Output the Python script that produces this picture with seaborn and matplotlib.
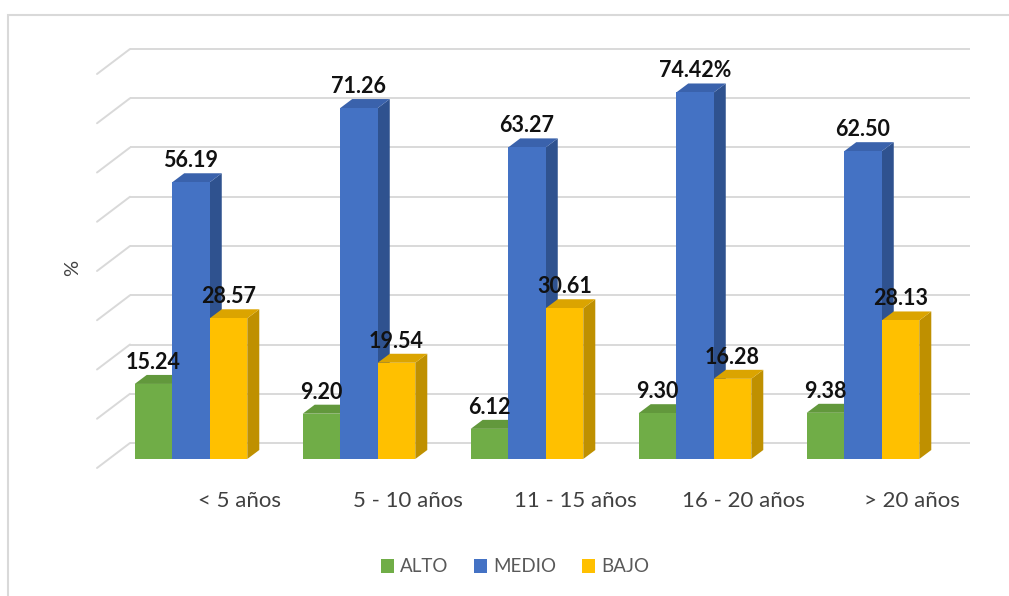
import numpy as np
import pandas as pd
import matplotlib
matplotlib.use("Agg")
import matplotlib.pyplot as plt
from matplotlib.patches import Polygon, Rectangle
import seaborn as sns

# ---- data -------------------------------------------------------------
categories = ["< 5 años", "5 - 10 años", "11 - 15 años", "16 - 20 años", "> 20 años"]
series = ["ALTO", "MEDIO", "BAJO"]
alto = [15.24, 9.20, 6.12, 9.30, 9.38]
medio = [56.19, 71.26, 63.27, 74.42, 62.50]
bajo = [28.57, 19.54, 30.61, 16.28, 28.13]
medio_suffix = ["", "", "", "%", ""]
y_ticks = list(range(0, 90, 10))

rows = [(c, s, v)
        for s, vals in zip(series, [alto, medio, bajo])
        for c, v in zip(categories, vals)]
df = pd.DataFrame(rows, columns=["Tiempo", "Nivel", "Porcentaje"])

# ---- style ------------------------------------------------------------
W, H, DPI = 1009, 596, 100
front = {"ALTO": "#70AD47", "MEDIO": "#4472C4", "BAJO": "#FFC000"}
side = {"ALTO": "#507E32", "MEDIO": "#2F528F", "BAJO": "#BF9000"}
top = {"ALTO": "#62983C", "MEDIO": "#3A62AC", "BAJO": "#DBA400"}
grid_col = "#D9D9D9"

sns.set_theme(style="white")
plt.rcParams["font.family"] = ["Lato", "DejaVu Sans"]

fig = plt.figure(figsize=(W / DPI, H / DPI), dpi=DPI)
fig.patch.set_facecolor("white")

# plotting region (pixels from the top-left corner of the figure)
L, R, T, B = 97, 970, 65.0, 459
ax = fig.add_axes([L / W, 1 - B / H, (R - L) / W, (B - T) / H])

sns.barplot(data=df, x="Tiempo", y="Porcentaje", hue="Nivel",
            order=categories, hue_order=series, palette=front,
            width=0.67, saturation=1, linewidth=0, ax=ax)

# category spacing of 168 px, first group centred at x=191 px
x0 = (L - 191) / 168
x1 = (R - 191) / 168
ax.set_xlim(x0, x1)
ax.set_ylim(0, 80)
px_x = (R - L) / (x1 - x0)
px_y = (B - T) / 80.0

# depth of the pseudo-3D walls and bars (pixels)
wall_dx, wall_dy = 33, 25
floor_dy = 16
bar_dx, bar_dy = 12 / px_x, 9 / px_y

# back wall gridlines and the side wall edges
x_wall = x0 + wall_dx / px_x
for v in y_ticks:
    yb = v + floor_dy / px_y
    ax.plot([x_wall, x1], [yb, yb], color=grid_col, lw=1.4,
            clip_on=False, zorder=0, solid_capstyle="butt")
    ax.plot([x0, x_wall], [yb - wall_dy / px_y, yb], color=grid_col,
            lw=1.4, clip_on=False, zorder=0)

# extrude every bar: right side and top faces
bars = []
for level, cont in zip(series, ax.containers):
    for i, bar in enumerate(cont):
        bars.append((bar.get_x(), level, i, bar))
bars.sort(key=lambda b: b[0])

for k, (_, level, i, bar) in enumerate(bars):
    xa = bar.get_x()
    xb = xa + bar.get_width()
    h = bar.get_height()
    z = 3 + 2 * k
    ax.add_patch(Polygon([(xb, 0), (xb, h), (xb + bar_dx, h + bar_dy),
                          (xb + bar_dx, bar_dy)], closed=True,
                         facecolor=side[level], edgecolor="none",
                         zorder=z, clip_on=False))
    ax.add_patch(Polygon([(xa, h), (xb, h), (xb + bar_dx, h + bar_dy),
                          (xa + bar_dx, h + bar_dy)], closed=True,
                         facecolor=top[level], edgecolor="none",
                         zorder=z, clip_on=False))
    bar.set_zorder(z + 1)
    bar.set_clip_on(False)

    text = f"{h:.2f}"
    if level == "MEDIO":
        text += medio_suffix[i]
    ax.annotate(text, ((xa + xb) / 2, h), xytext=(0, 15),
                textcoords="offset pixels", ha="center", va="baseline",
                fontsize=15.5, fontweight="bold", color="#111111",
                zorder=100, annotation_clip=False)

# axes decoration
for s in ax.spines.values():
    s.set_visible(False)
ax.set_yticks([])
ax.set_xticks(np.arange(len(categories)) + 0.29, categories)
ax.tick_params(axis="x", length=0, pad=23, labelsize=16, labelcolor="#404040")
ax.set_xlabel("")
ax.set_ylabel("")
ax.patch.set_alpha(0)

fig.text(73 / W, 1 - 268 / H, "%", rotation=90, ha="center", va="center",
         fontsize=14.5, color="#404040")

handles, labels = ax.get_legend_handles_labels()
ax.get_legend().remove()
fig.legend(handles, labels, loc="center", bbox_to_anchor=(515 / W, 1 - 567 / H),
           ncol=3, frameon=False, fontsize=13.5, labelcolor="#595959",
           handlelength=0.7, handleheight=0.7, handletextpad=0.3,
           columnspacing=1.4)

# chart frame
fig.patches.append(Rectangle((8 / W, -0.1), 1.2, 1 - 15 / H + 0.1,
                             transform=fig.transFigure, fill=False,
                             edgecolor=grid_col, lw=1.5))

fig.savefig("out.png", dpi=DPI)
